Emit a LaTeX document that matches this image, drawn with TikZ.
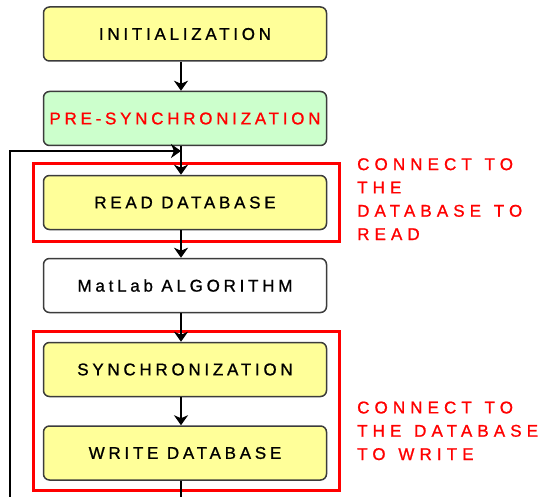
\documentclass[tikz,border=0pt]{standalone}
\usepackage{fontspec}
\setmainfont{Liberation Sans}
\newfontfamily\boxfont[LetterSpace=22,FakeBold=1]{Liberation Sans}
\newfontfamily\redfont[LetterSpace=30,WordSpace=1.3,FakeBold=1]{Liberation Sans}
\usetikzlibrary{arrows.meta,fit}
\definecolor{boxyellow}{RGB}{255,255,153}
\definecolor{boxgreen}{RGB}{204,255,204}
\definecolor{boxedge}{RGB}{60,60,60}
\definecolor{hired}{RGB}{255,0,0}
\tikzset{
  flowbox/.style={draw=boxedge, line width=1.5pt, rounded corners=6pt,
    minimum width=283pt, minimum height=54pt, inner sep=0pt,
    font=\boxfont\fontsize{17}{20}\selectfont, text=black},
  yel/.style={flowbox, fill=boxyellow},
  arr/.style={draw=black, line width=2pt,
    -{Stealth[length=10pt,width=14pt,inset=3pt]}},
  plainline/.style={draw=black, line width=2pt},
  redframe/.style={draw=hired, line width=3pt, inner xsep=10.5pt, inner ysep=11pt, xshift=1.5pt},
  note/.style={text=hired, align=left, anchor=base west, inner sep=0pt,
    font=\redfont\fontsize{17}{23.3}\selectfont}
}
\begin{document}
\begin{tikzpicture}[x=1pt,y=-1pt]
\useasboundingbox (0,0) rectangle (556,497);
\fill[white] (0,0) rectangle (556,497);
\coordinate (tx) at (181,0);
\node[yel] (init) at (185,34) {INITIALIZATION};
\node[flowbox, fill=boxgreen, text=hired] (pre) at (185,118.5) {PRE-SYNCHRONIZATION};
\node[yel] (read) at (185,202.5) {READ DATABASE};
\node[flowbox, fill=white] (mat) at (185,285.5) {MatLab ALGORITHM};
\node[yel] (sync) at (185,369.5) {SYNCHRONIZATION};
\node[yel] (write) at (185,453) {WRITE DATABASE};
\node[redframe, fit=(read)] (rf1) {};
\node[redframe, fit=(sync)(write), inner ysep=10pt] (rf2) {};
\coordinate (bot) at (181,497);
\coordinate (lb) at (10,497);
\coordinate (lj) at (181,151);
\draw[arr] (init.south -| tx) -- (pre.north -| tx);
\draw[arr] (pre.south -| tx) -- (read.north -| tx);
\draw[arr] (read.south -| tx) -- (mat.north -| tx);
\draw[arr] (mat.south -| tx) -- (sync.north -| tx);
\draw[arr] (sync.south -| tx) -- (write.north -| tx);
\draw[plainline] (write.south -| tx) -- (bot);
\draw[arr] (lb) |- (lj);
\node[note] (t1) at (357,240) {CONNECT TO\\THE\\DATABASE TO\\READ};
\node[note] (t2) at (357,460) {CONNECT TO\\THE DATABASE\\TO WRITE};
\end{tikzpicture}
\end{document}
